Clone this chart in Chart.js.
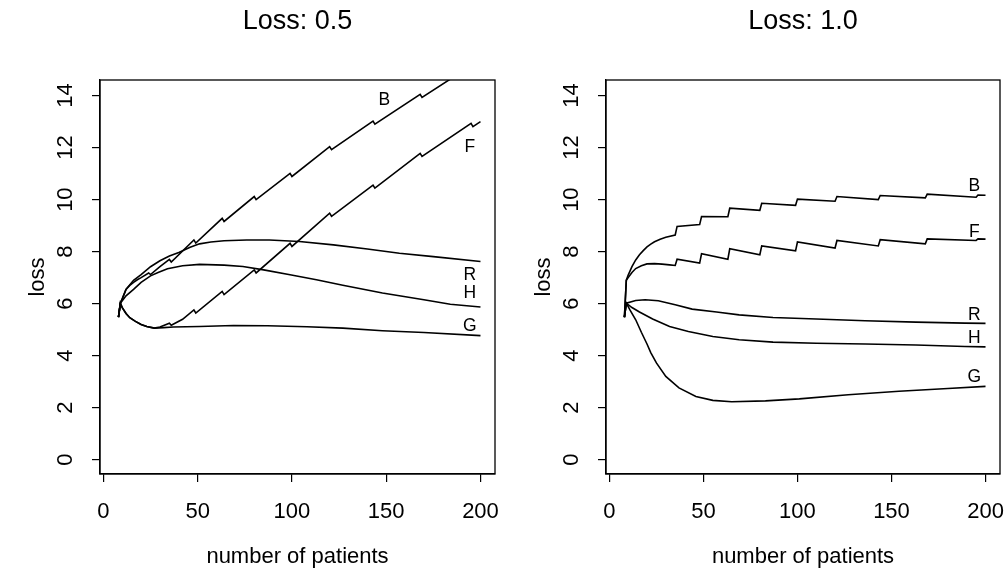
<!DOCTYPE html>
<html>
<head>
<meta charset="utf-8">
<script src="https://cdn.jsdelivr.net/npm/chart.js@4"></script>
<style>
    html, body { margin: 0; padding: 0; background: #fff; }
    #wrap { position: relative; width: 1006px; height: 569px; }
    canvas { position: absolute; top: 0; }
</style>
</head>
<body>
<div id="wrap">
    <canvas id="lossHalf" width="503" height="569" style="left:0"></canvas>
    <canvas id="lossFull" width="503" height="569" style="left:503px"></canvas>
</div>
<script>
// Data: [number of patients, loss]

// Loss: 0.5
const halfB = [[8,5.48],[9,6.02],[10,6.18],[12,6.55],[14,6.7],[16,6.82],[18,6.92],[20,7.0],[24,7.18],[25,7.12],[30,7.42],[35,7.7],[36,7.6],[48,8.45],[49,8.33],[63,9.28],[64,9.16],[80,10.12],[81,10.0],[99,11.01],[100,10.89],[120,12.04],[121,11.92],[143,13.02],[144,12.9],[168,14.05],[169,13.93],[195,15.15],[196,15.03],[200,15.22]];
const halfF = [[8,5.48],[9,6.02],[10,5.85],[12,5.62],[14,5.46],[17,5.32],[20,5.2],[23,5.12],[27,5.06],[30,5.1],[35,5.25],[36,5.17],[42,5.4],[48,5.76],[49,5.64],[63,6.47],[64,6.35],[80,7.3],[81,7.18],[99,8.32],[100,8.2],[120,9.48],[121,9.36],[143,10.56],[144,10.44],[168,11.78],[169,11.66],[195,12.93],[196,12.81],[200,13.0]];
const halfR = [[8,5.48],[9,6.02],[12,6.55],[16,6.9],[20,7.12],[25,7.42],[30,7.65],[35,7.83],[40,7.97],[46,8.17],[51,8.3],[57,8.37],[64,8.42],[76,8.45],[88,8.45],[104,8.39],[122,8.26],[140,8.1],[157,7.94],[175,7.81],[200,7.62]];
const halfH = [[8,5.48],[9,6.02],[12,6.3],[16,6.55],[20,6.82],[25,7.07],[29,7.2],[34,7.34],[42,7.46],[51,7.51],[64,7.48],[74,7.43],[85,7.3],[99,7.11],[113,6.92],[127,6.71],[148,6.41],[170,6.15],[184,5.98],[200,5.87]];
const halfG = [[8,5.48],[9,6.02],[10,5.85],[12,5.62],[14,5.46],[17,5.32],[20,5.2],[23,5.12],[27,5.06],[32,5.08],[37,5.1],[51,5.12],[69,5.16],[87,5.15],[108,5.11],[127,5.06],[148,4.96],[170,4.89],[200,4.77]];

// Loss: 1.0
const fullB = [[8,5.48],[9,6.9],[10,7.1],[12,7.42],[14,7.68],[16,7.88],[18,8.04],[20,8.18],[22,8.29],[24,8.38],[27,8.48],[30,8.55],[35,8.64],[36,8.97],[48,9.04],[49,9.35],[63,9.34],[64,9.67],[80,9.59],[81,9.86],[99,9.78],[100,10.02],[120,9.94],[121,10.12],[143,10.0],[144,10.16],[168,10.07],[169,10.21],[195,10.09],[196,10.18],[200,10.17]];
const fullF = [[8,5.48],[9,6.9],[10,7.0],[12,7.2],[14,7.35],[17,7.46],[20,7.53],[24,7.54],[28,7.52],[32,7.49],[35,7.47],[36,7.71],[48,7.56],[49,7.92],[63,7.71],[64,8.11],[80,7.88],[81,8.22],[99,8.03],[100,8.37],[120,8.14],[121,8.43],[143,8.22],[144,8.46],[168,8.3],[169,8.49],[195,8.43],[196,8.49],[200,8.48]];
const fullR = [[8,5.48],[9,6.02],[14,6.12],[19,6.15],[26,6.11],[35,5.96],[44,5.79],[57,5.68],[69,5.57],[87,5.47],[110,5.41],[136,5.34],[163,5.29],[189,5.25],[200,5.24]];
const fullH = [[8,5.48],[9,6.02],[12,5.85],[16,5.68],[23,5.41],[32,5.12],[42,4.93],[55,4.74],[69,4.61],[87,4.52],[110,4.48],[136,4.45],[163,4.41],[189,4.35],[200,4.34]];
const fullG = [[8,5.48],[9,6.02],[11,5.75],[14,5.38],[17,4.9],[20,4.45],[22,4.12],[25,3.72],[30,3.2],[37,2.76],[46,2.43],[55,2.28],[65,2.23],[83,2.26],[101,2.34],[127,2.5],[154,2.63],[180,2.74],[200,2.82]];

const seriesNames = ["B", "F", "R", "H", "G"];
// where each curve's letter sits, in data units
const halfLabelAt = [[149,13.84],[194.4,12.0],[194.4,7.09],[194.4,6.4],[194.4,5.15]];
const fullLabelAt = [[194,10.5],[194,8.76],[194,5.57],[194,4.68],[194,3.19]];

const xTicks = [0, 50, 100, 150, 200];
const yTicks = [0, 2, 4, 6, 8, 10, 12, 14];

const FONT = "'Liberation Sans', Arial, Helvetica, sans-serif";

// R style frame, tick labels, titles and curve letters
const panelPlugin = {
    id: "panel",
    afterDraw(chart, args, opts) {
        const ctx = chart.ctx;
        const area = chart.chartArea;
        const xs = chart.scales.x;
        const ys = chart.scales.y;

        ctx.save();
        ctx.strokeStyle = "#000";
        ctx.lineWidth = 1.3;
        ctx.strokeRect(area.left, area.top, area.right - area.left, area.bottom - area.top);

        ctx.fillStyle = "#000";
        ctx.font = "22px " + FONT;
        ctx.textAlign = "center";
        ctx.textBaseline = "alphabetic";
        xTicks.forEach(v => ctx.fillText(String(v), xs.getPixelForValue(v), 518));

        yTicks.forEach(v => {
            ctx.save();
            ctx.translate(area.left - 28, ys.getPixelForValue(v));
            ctx.rotate(-Math.PI / 2);
            ctx.fillText(String(v), 0, 0);
            ctx.restore();
        });

        const midX = (area.left + area.right) / 2;
        const midY = (area.top + area.bottom) / 2;
        ctx.fillText("number of patients", midX, 563);

        ctx.save();
        ctx.translate(area.left - 56, midY);
        ctx.rotate(-Math.PI / 2);
        ctx.fillText("loss", 0, 0);
        ctx.restore();

        ctx.font = "27px " + FONT;
        ctx.fillText(opts.title, midX, 29);

        ctx.font = "17.5px " + FONT;
        ctx.textBaseline = "middle";
        opts.labelAt.forEach((p, i) => {
            ctx.fillText(seriesNames[i], xs.getPixelForValue(p[0]), ys.getPixelForValue(p[1]));
        });
        ctx.restore();
    }
};

function makePanel(canvasId, title, series, labelAt, areaLeft, areaRight) {
    const datasets = series.map((pts, i) => ({
        label: seriesNames[i],
        data: pts.map(p => ({ x: p[0], y: p[1] })),
        borderColor: "#000",
        borderWidth: 1.6,
        pointRadius: 0,
        tension: 0,
        fill: false,
        clip: 0
    }));

    const tickGrid = {
        display: true,
        drawOnChartArea: false,
        drawTicks: true,
        tickLength: 8,
        color: "#000",
        lineWidth: 1.2
    };

    return new Chart(document.getElementById(canvasId), {
        type: "line",
        data: { datasets },
        options: {
            responsive: false,
            animation: false,
            events: [],
            layout: { padding: { left: 0, right: 503 - areaRight, top: 80, bottom: 0 } },
            plugins: {
                legend: { display: false },
                tooltip: { enabled: false },
                panel: { title, labelAt }
            },
            scales: {
                x: {
                    type: "linear",
                    min: -1.8,
                    max: 207.7,
                    afterBuildTicks: s => { s.ticks = xTicks.map(v => ({ value: v })); },
                    afterFit: s => { s.height = 95; },
                    ticks: { display: false },
                    grid: tickGrid,
                    border: { display: true, color: "#000", width: 1.3 }
                },
                y: {
                    type: "linear",
                    min: -0.55,
                    max: 14.6,
                    afterBuildTicks: s => { s.ticks = yTicks.map(v => ({ value: v })); },
                    afterFit: s => { s.width = areaLeft; },
                    ticks: { display: false },
                    grid: tickGrid,
                    border: { display: true, color: "#000", width: 1.3 }
                }
            }
        },
        plugins: [panelPlugin]
    });
}

makePanel("lossHalf", "Loss: 0.5", [halfB, halfF, halfR, halfH, halfG], halfLabelAt, 100, 495);
makePanel("lossFull", "Loss: 1.0", [fullB, fullF, fullR, fullH, fullG], fullLabelAt, 103, 497);
</script>
</body>
</html>
